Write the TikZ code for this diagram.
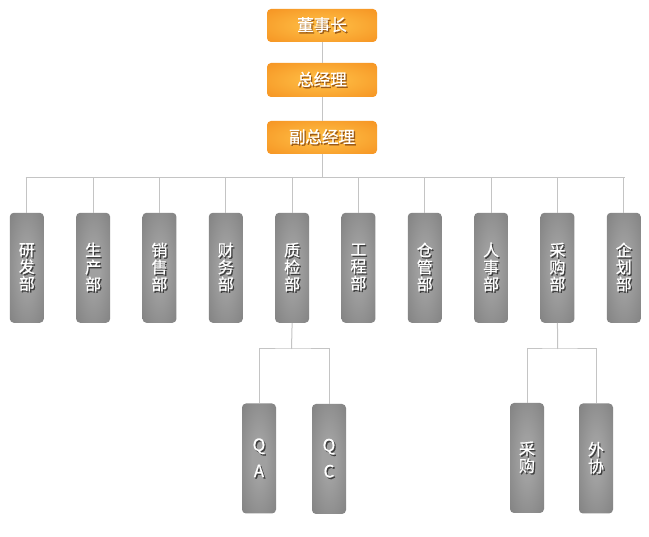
\documentclass[tikz,border=0pt]{standalone}
\usepackage{fontspec}
\setmainfont{Noto Sans CJK SC}
\newfontfamily\cjkb[FakeBold=0.6]{Noto Sans CJK SC}
\definecolor{orIn}{HTML}{FDB840}
\definecolor{orOut}{HTML}{F28214}
\definecolor{gyIn}{HTML}{A0A0A0}
\definecolor{gyOut}{HTML}{727272}
\definecolor{lineC}{HTML}{C4C4C4}
\definecolor{orShd}{HTML}{9A5A18}
\definecolor{gyShd}{HTML}{3E3E3E}
\newcommand\shdw[2]{\makebox[0pt][l]{\hspace{1.3pt}\raisebox{-1.5pt}{\textcolor{#1}{#2}}}#2}
\newcommand\os[1]{\shdw{orShd}{#1}}
\newcommand\gs[1]{\shdw{gyShd}{#1}}
\pgfdeclareradialshading{orglow}{\pgfpointorigin}{color(0bp)=(orIn); color(8bp)=(orIn); color(50bp)=(orOut); color(80bp)=(orOut)}
\pgfdeclareradialshading{gyglow}{\pgfpointorigin}{color(0bp)=(gyIn); color(10bp)=(gyIn); color(50bp)=(gyOut); color(80bp)=(gyOut)}
\begin{document}
\begin{tikzpicture}[x=1pt,y=-1pt,
  topbox/.style={rounded corners=4pt, minimum width=110pt, minimum height=33pt, shading=orglow, inner sep=0pt, text=white, font=\cjkb\fontsize{16.5}{18}\selectfont},
  greybox/.style={rounded corners=4pt, minimum width=34pt, minimum height=110pt, shading=gyglow, inner sep=0pt, text=white, align=center, font=\cjkb\fontsize{16}{17}\selectfont},
  qbox/.style={greybox, font=\cjkb\fontsize{17}{26}\selectfont},
  conn/.style={draw=lineC, line width=1pt}
]
\useasboundingbox[fill=white] (0,0) rectangle (649,537);

% top chain
\node[topbox] (ceo) at (322,25.5) {\os{董事长}};
\node[topbox, minimum height=34pt] (gm) at (322,80) {\os{总经理}};
\node[topbox] (vgm) at (322,137.5) {\os{副总经理}};
\coordinate (bus) at (322,177.5);
\draw[conn] (ceo.south) -- (gm.north);
\draw[conn] (gm.south) -- (vgm.north);
\draw[conn] (vgm.south) -- (bus);
\coordinate (busL) at (25.7,177.5);
\coordinate (busR) at (625.3,177.5);
\draw[conn] (busL) -- (busR);

% departments
\foreach \i/\a/\b in {0/研/发, 1/生/产, 2/销/售, 3/财/务, 4/质/检, 5/工/程, 6/仓/管, 7/人/事, 8/采/购, 9/企/划}{
  \pgfmathsetmacro{\xx}{26.8+66.33*\i}
  \node[greybox] (d\i) at (\xx,267.8) {\gs{\a}\\\gs{\b}\\\gs{部}};
  \draw[conn] (d\i.north) -- (d\i.north |- bus);
}

% sub units of QC dept
\coordinate (qbus) at (291.5,349);
\node[qbox] (qa) at (259,458.5) {\gs{Q}\\\gs{A}};
\node[qbox] (qc) at (329,459) {\gs{Q}\\\gs{C}};
\draw[conn] (d4.south) -- (qbus);
\draw[conn] (qa.north) |- (qbus) -| (qc.north);

% sub units of purchasing
\coordinate (pbus) at (557.7,349);
\node[greybox] (pu) at (527,458) {\gs{采}\\\gs{购}};
\node[greybox] (wx) at (596,458.5) {\gs{外}\\\gs{协}};
\draw[conn] (d8.south) -- (pbus);
\draw[conn] (pu.north) |- (pbus) -| (wx.north);
\end{tikzpicture}
\end{document}
